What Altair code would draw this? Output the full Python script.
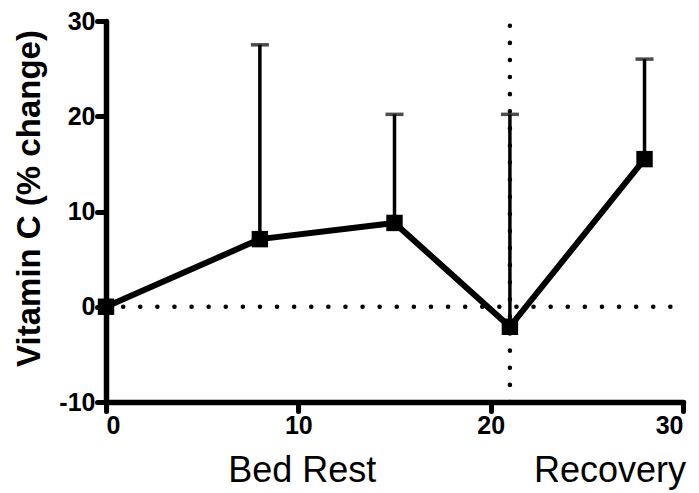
import altair as alt
import pandas as pd

days = [0, 8, 15, 21, 28]
vitc = [0.0, 7.1, 8.8, -2.1, 15.5]
err = [0.0, 20.4, 11.4, 22.3, 10.5]

phase_labels = ["Bed Rest", "Recovery"]
phase_x = [10.2, 26.2]

df = pd.DataFrame({"day": days, "v": vitc, "err": err})
df["top"] = df["v"] + df["err"]
eb = df[df["err"] > 0]

xs = alt.Scale(domain=[0, 30], nice=False, zero=False)
ys = alt.Scale(domain=[-10, 30], nice=False, zero=False)

FONT = "Liberation Sans"

xaxis = alt.Axis(values=[0, 10, 20, 30], title=None)
yaxis = alt.Axis(values=[-10, 0, 10, 20, 30], title="Vitamin C (% change)",
                 labelExpr="datum.value < 0 ? '-' + abs(datum.value) : '' + datum.value",
                 titleX=-77, titleY=177, titleAngle=-90, titleAlign="center",
                 titleBaseline="middle")

X = lambda f: alt.X(f, scale=xs, axis=xaxis)
Y = lambda f: alt.Y(f, scale=ys, axis=yaxis)

hline = alt.Chart(pd.DataFrame({"x": [0], "x2": [30], "y": [0]})).mark_rule(
    strokeDash=[0.1, 17], strokeCap="round", strokeWidth=4.5, color="black"
).encode(x=X("x:Q"), x2="x2:Q", y=Y("y:Q"))

vline = alt.Chart(pd.DataFrame({"x": [21], "y": [-10], "y2": [30]})).mark_rule(
    strokeDash=[0.1, 17], strokeCap="round", strokeWidth=4.5, color="black"
).encode(x=X("x:Q"), y=Y("y:Q"), y2="y2:Q")

bars = alt.Chart(eb).mark_rule(strokeWidth=3.5, color="black").encode(
    x=X("day:Q"), y=Y("v:Q"), y2="top:Q")
caps = alt.Chart(eb).mark_tick(orient="horizontal", size=18, thickness=3.5, color="black").encode(
    x=X("day:Q"), y=Y("top:Q"))

line = alt.Chart(df).mark_line(strokeWidth=6, color="black").encode(
    x=X("day:Q"), y=Y("v:Q"))
pts = alt.Chart(df).mark_square(size=270, color="black", opacity=1).encode(
    x=X("day:Q"), y=Y("v:Q"))

phase = alt.Chart(pd.DataFrame({"x": phase_x, "t": phase_labels})).mark_text(
    font=FONT, fontSize=36, color="black", baseline="middle", align="center"
).encode(x=X("x:Q"), y=alt.value(450), text="t:N")

chart = alt.layer(hline, vline, bars, caps, line, pts, phase).properties(
    width=577, height=381,
    autosize=alt.AutoSizeParams(type="none"),
    padding={"left": 98, "top": 13, "right": 8, "bottom": 90},
).configure_view(stroke=None).configure_axis(
    grid=False, domainWidth=5.5, domainColor="black", tickColor="black", tickWidth=5,
    tickSize=9, labelFont=FONT, labelFontWeight="bold", labelFontSize=25, labelColor="black",
    labelPadding=2, titleFont=FONT, titleFontWeight="bold", titleFontSize=33,
    titleColor="black", tickCap="round", domainCap="round"
)

chart.save("out.html", embed_options={"renderer": "svg", "actions": False})
